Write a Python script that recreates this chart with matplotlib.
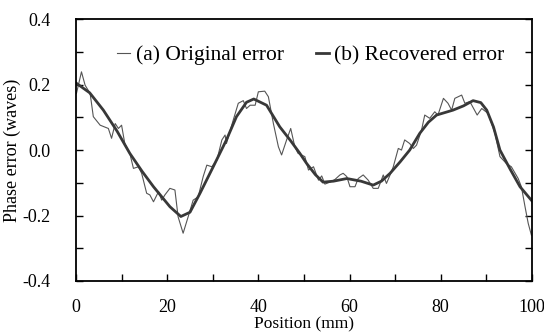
import numpy as np
import matplotlib
matplotlib.use('Agg')
import matplotlib.pyplot as plt
from matplotlib.ticker import MultipleLocator, FormatStrFormatter

plt.rcParams['font.family'] = ['Liberation Serif', 'DejaVu Serif']
plt.rcParams['axes.unicode_minus'] = False

# (a) original error
orig_x = [0.1, 1.2, 2.0, 3.1, 3.8, 5.3, 7.1, 7.8, 8.6, 9.3, 10.0, 10.7, 11.8, 12.6, 13.7, 14.4,
          15.5, 16.2, 17.0, 18.1, 18.8, 19.5, 20.6, 21.7, 22.4, 23.5, 24.6, 25.7, 26.8, 27.9,
          28.7, 29.8, 30.9, 32.0, 32.7, 33.0, 34.5, 35.6, 36.7, 37.4, 38.2, 39.3, 40.0, 41.4,
          42.2, 43.3, 44.4, 45.1, 46.2, 47.1, 48.0, 48.7, 50.2, 51.0, 52.1, 53.2, 53.9, 54.6,
          55.7, 56.8, 57.9, 58.6, 59.4, 60.1, 61.2, 61.9, 63.0, 64.1, 65.2, 66.3, 67.4, 68.1,
          68.9, 69.6, 70.7, 71.4, 72.1, 73.2, 74.0, 74.7, 75.8, 76.5, 77.6, 78.7, 79.4, 80.6,
          81.6, 82.4, 83.1, 84.6, 85.3, 86.4, 88.0, 89.0, 90.4, 91.9, 93.0, 94.4, 95.5, 97.0,
          97.7, 98.5, 99.2, 99.9]
orig_y = [0.173, 0.239, 0.198, 0.173, 0.102, 0.076, 0.066, 0.036, 0.081, 0.066, 0.076, 0.020,
          -0.010, -0.056, -0.051, -0.071, -0.132, -0.137, -0.158, -0.127, -0.153, -0.137,
          -0.117, -0.122, -0.204, -0.254, -0.204, -0.153, -0.143, -0.081, -0.046, -0.051,
          -0.031, 0.031, 0.046, 0.020, 0.092, 0.143, 0.151, 0.127, 0.137, 0.137, 0.178, 0.180,
          0.163, 0.081, 0.010, -0.015, 0.031, 0.066, 0.010, -0.010, -0.020, -0.061, -0.051,
          -0.092, -0.079, -0.104, -0.098, -0.090, -0.076, -0.071, -0.081, -0.112, -0.112,
          -0.087, -0.076, -0.092, -0.117, -0.117, -0.076, -0.102, -0.076, -0.051, 0.005,
          0.000, 0.031, 0.020, 0.005, 0.015, 0.061, 0.107, 0.097, 0.117, 0.107, 0.158, 0.143,
          0.122, 0.158, 0.168, 0.143, 0.148, 0.107, 0.127, 0.112, 0.051, -0.020, -0.041,
          -0.051, -0.087, -0.112, -0.173, -0.224, -0.260]

# (b) recovered error
rec_x = [0.0, 3.0, 6.0, 9.0, 11.8, 14.5, 17.0, 20.6, 23.0, 25.0, 27.2, 30.1, 33.0, 35.2,
         37.4, 39.0, 41.8, 44.7, 47.0, 49.1, 50.6, 52.5, 54.2, 56.5, 59.4, 62.5, 65.2, 67.0,
         68.9, 71.1, 73.2, 75.4, 77.3, 79.1, 82.7, 85.0, 87.1, 88.8, 90.1, 91.6, 93.0, 95.3,
         97.4, 100.0]
rec_y = [0.205, 0.175, 0.122, 0.058, -0.010, -0.065, -0.112, -0.173, -0.203, -0.190,
         -0.132, -0.051, 0.031, 0.102, 0.146, 0.156, 0.137, 0.071, 0.030, -0.010, -0.041,
         -0.075, -0.098, -0.095, -0.087, -0.095, -0.107, -0.095, -0.071, -0.036, 0.000,
         0.051, 0.085, 0.107, 0.122, 0.135, 0.151, 0.145, 0.122, 0.070, 0.000, -0.060,
         -0.112, -0.155]

fig = plt.figure(figsize=(5.44, 3.34), dpi=100)
ax = fig.add_axes([0.1397, 0.1587, 0.838, 0.784])

ax.plot(orig_x, orig_y, color='#555555', lw=0.8, label='(a) Original error')
ax.plot(rec_x, rec_y, color='#383838', lw=2.0, label='(b) Recovered error')

ax.set_xlim(0, 100)
ax.set_ylim(-0.4, 0.4)
ax.xaxis.set_major_locator(MultipleLocator(20))
ax.xaxis.set_minor_locator(MultipleLocator(10))
ax.yaxis.set_major_locator(MultipleLocator(0.2))
ax.yaxis.set_minor_locator(MultipleLocator(0.1))
ax.yaxis.set_major_formatter(FormatStrFormatter('%.1f'))

ax.tick_params(which='both', direction='in', top=False, right=True, labelsize=13,
               width=1.0, color='black', length=5)
ax.tick_params(axis='x', pad=13)
ax.tick_params(axis='y', pad=18)
for s in ax.spines.values():
    s.set_linewidth(1.3)
    s.set_color('black')

ax.set_xlabel('Position (mm)', fontsize=12.5, labelpad=0)
ax.set_ylabel('Phase error (waves)', fontsize=13, labelpad=1)

ax.legend(loc='upper center', ncol=2, frameon=False, fontsize=15.5, handlelength=0.6,
          handletextpad=0.25, columnspacing=1.5, bbox_to_anchor=(0.515, 0.975))

fig.savefig('out.png', dpi=100)
